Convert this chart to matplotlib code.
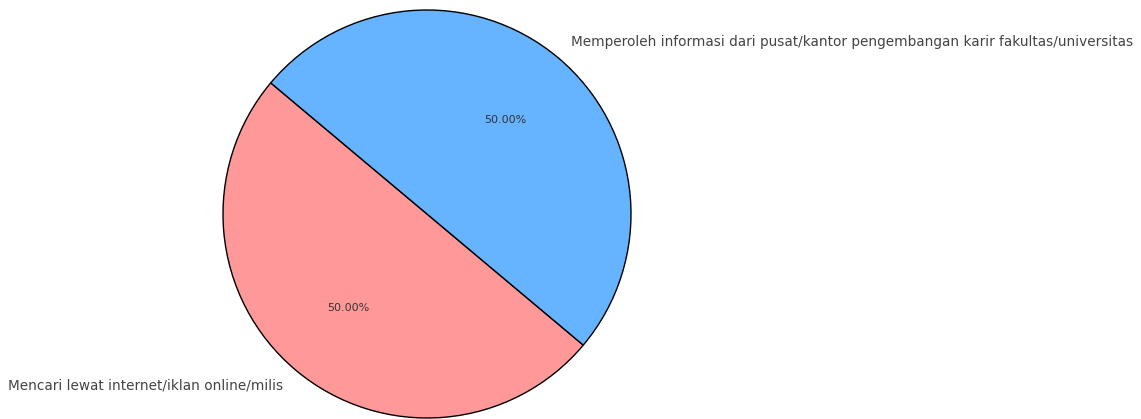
import matplotlib
matplotlib.use("Agg")
import matplotlib.pyplot as plt

labels = [
    "Mencari lewat internet/iklan online/milis",
    "Memperoleh informasi dari pusat/kantor pengembangan karir fakultas/universitas",
]
values = [1, 1]
colors = ["#ff9999", "#66b3ff"]

W, H = 1141, 419
fig = plt.figure(figsize=(W / 100, H / 100), dpi=100)
cx, cy, r = 427, 205, 204
ax = fig.add_axes([(cx - r) / W, (cy - r) / H, 2 * r / W, 2 * r / H])

wedges, texts, autotexts = ax.pie(
    values,
    labels=labels,
    colors=colors,
    autopct="%1.2f%%",
    startangle=140,
    wedgeprops={"edgecolor": "black", "linewidth": 1},
    textprops={"color": "#444444", "fontsize": 9.85},
)
for t in autotexts:
    t.set_fontsize(8)
    t.set_color("#333333")

ax.set_xlim(-1, 1)
ax.set_ylim(-1, 1)
ax.set_aspect("equal")
ax.axis("off")

fig.savefig("out.png", dpi=100)
